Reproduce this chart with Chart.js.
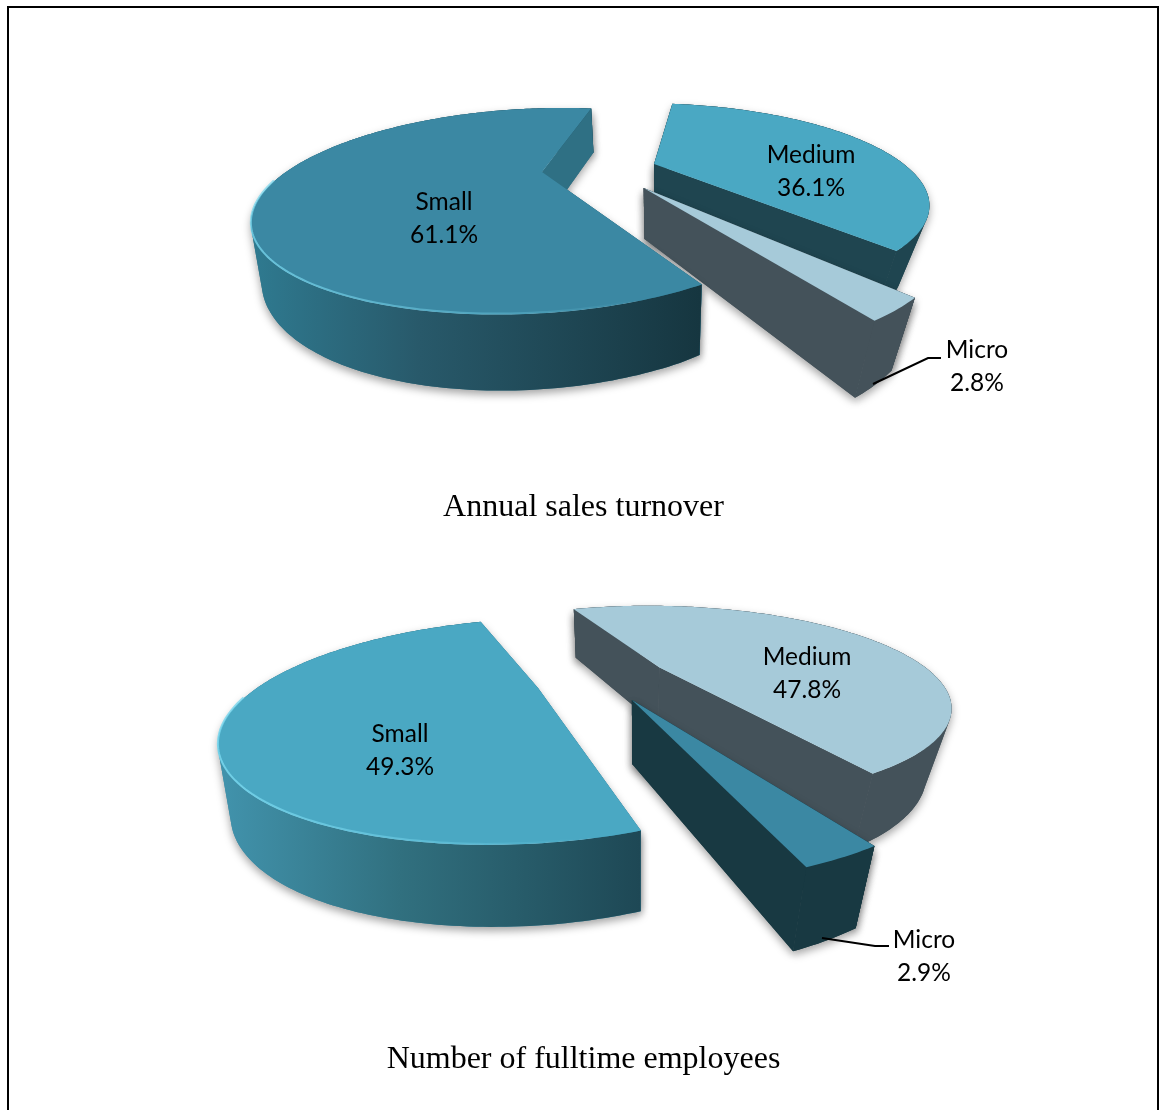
<!DOCTYPE html>
<html>
<head>
<meta charset="utf-8">
<title>Enterprise size shares</title>
<script src="https://cdn.jsdelivr.net/npm/chart.js@4"></script>
<style>
  html, body { margin: 0; padding: 0; background: #fff; width: 1159px; height: 1110px; overflow: hidden; }
  #frame { position: absolute; left: 7px; top: 6px; width: 1148px; height: 1200px; border: 2px solid #000; }
  canvas { position: absolute; left: 0; }
  #turnover { top: 0; }
  #employees { top: 550px; }
</style>
</head>
<body>
<div id="frame"></div>
<canvas id="turnover" width="1167" height="533"></canvas>
<canvas id="employees" width="1167" height="535"></canvas>
<script>
// Slice order runs clockwise from the rotation angle.
const categories = ['Medium', 'Micro', 'Small'];
const turnoverValues = [36.1, 2.8, 61.1];
const employeeValues = [47.8, 2.9, 49.3];
const turnoverTitle = 'Annual sales turnover';
const employeeTitle = 'Number of fulltime employees';

const TEAL = '#4aa8c3', DEEP = '#3b88a3', PALE = '#a6cad9';

// Camera and slice layout for each pie. Offsets and radii are in disc units.
const views = {
  turnover: {
    rotation: 9,
    origin: [542, 172], a: 256, b: -28, c: 88.4, k: 0.38,
    height: [48, 16, 12], pivot: 680, convergeLeft: 0.025, convergeRight: 0.1,
    offset: [[0.443, -0.094], [0.39, 0.169], [0, 0]],
    radius: [1.01, 1, 1],
    top: [TEAL, PALE, DEEP],
    wall: ['#1f4550', '#44525a', '#2f7084'],
    rim: [null, null, [[252, '#2f7a90'], [420, '#28596a'], [700, '#163640']]],
    glow: [0, 0, 0.75],
    labels: [[811, 155], [977, 350], [444, 202]],
    leader: [[873, 384], [928, 358], [941, 358]]
  },
  employees: {
    rotation: -22.2,
    origin: [538, 138], a: 281, b: -30.7, c: 96.8, k: 0.383,
    height: [62, 16, 4], pivot: 640, convergeLeft: 0.03, convergeRight: 0.08,
    offset: [[0.445, -0.23], [0.332, 0.118], [0, 0]],
    radius: [1.03, 1.025, 1],
    top: [PALE, DEEP, TEAL],
    wall: ['#44525a', '#183942', '#3b88a3'],
    rim: [null, null, [[225, '#4192ab'], [400, '#31707f'], [640, '#1e4855']]],
    glow: [0, 0, 0.85],
    labels: [[807, 107], [924, 390], [400, 184]],
    leader: [[822, 388], [875, 396], [889, 396]]
  }
};

function project(view, u, v) {
  const den = 1 - view.k * v;
  return {
    x: view.origin[0] + (view.a * u + view.b * v) / den,
    y: view.origin[1] + view.c * v / den,
    v
  };
}

function lower(view, p) {
  const [h0, h1, h2] = view.height;
  const gap = view.pivot - p.x;
  const converge = gap > 0 ? view.convergeLeft : view.convergeRight;
  return {
    x: p.x + converge * gap,
    y: p.y + h0 + h1 * p.v + h2 * p.v * p.v
  };
}

function tracePolygon(ctx, pts) {
  ctx.beginPath();
  pts.forEach((p, i) => (i ? ctx.lineTo(p.x, p.y) : ctx.moveTo(p.x, p.y)));
  ctx.closePath();
}

// Outer wall as one path of same-winding quads, so the curved silhouette stays filled.
function traceRim(ctx, upper, low) {
  ctx.beginPath();
  for (let n = 0; n < upper.length - 1; n++) {
    const quad = [upper[n], upper[n + 1], low[n + 1], low[n]];
    let area = 0;
    quad.forEach((p, j) => {
      const q = quad[(j + 1) % 4];
      area += p.x * q.y - q.x * p.y;
    });
    if (area < 0) quad.reverse();
    quad.forEach((p, j) => (j ? ctx.lineTo(p.x, p.y) : ctx.moveTo(p.x, p.y)));
    ctx.closePath();
  }
}

// Pie controller that keeps the library's slice angles and paints each one as an extruded wedge.
class Pie3DController extends Chart.PieController {
  static id = 'pie3d';

  draw() {
    const ctx = this.chart.ctx;
    const view = views[this.chart.canvas.id];
    this.getMeta().data.forEach((arc, i) => this.drawWedge(ctx, view, arc, i));
  }

  drawWedge(ctx, view, arc, i) {
    const [du, dv] = view.offset[i];
    const r = view.radius[i];
    const steps = Math.max(6, Math.ceil((arc.endAngle - arc.startAngle) * 180 / Math.PI));
    const rimTop = [];
    for (let s = 0; s <= steps; s++) {
      const t = arc.startAngle + (arc.endAngle - arc.startAngle) * s / steps;
      rimTop.push(project(view, du + r * Math.cos(t), dv + r * Math.sin(t)));
    }
    const apex = project(view, du, dv);
    const rimLow = rimTop.map(p => lower(view, p));
    const apexLow = lower(view, apex);
    const last = rimTop.length - 1;

    const startWall = [apex, rimTop[0], rimLow[0], apexLow];
    const endWall = [apex, rimTop[last], rimLow[last], apexLow];
    const startFacing = -Math.cos(arc.startAngle) > 0;
    const endFacing = Math.cos(arc.endAngle) > 0;

    let rimFill = view.wall[i];
    if (view.rim[i]) {
      const stops = view.rim[i];
      const x0 = stops[0][0], x1 = stops[stops.length - 1][0];
      rimFill = ctx.createLinearGradient(x0, 0, x1, 0);
      stops.forEach(([x, col]) => rimFill.addColorStop((x - x0) / (x1 - x0), col));
    }

    // Cast the drop shadow once from the whole body, then paint its faces cleanly on top.
    ctx.save();
    ctx.shadowColor = 'rgba(0,0,0,0.36)';
    ctx.shadowBlur = 9;
    ctx.shadowOffsetX = 0;
    ctx.shadowOffsetY = 4;
    ctx.fillStyle = view.wall[i];
    [startWall, endWall].forEach(face => {
      tracePolygon(ctx, face);
      ctx.fill();
    });
    traceRim(ctx, rimTop, rimLow);
    ctx.fill();
    ctx.restore();

    const paint = (face, fill) => {
      ctx.fillStyle = fill;
      tracePolygon(ctx, face);
      ctx.fill();
    };
    if (!startFacing) paint(startWall, view.wall[i]);
    if (!endFacing) paint(endWall, view.wall[i]);
    ctx.fillStyle = rimFill;
    traceRim(ctx, rimTop, rimLow);
    ctx.fill();
    if (startFacing) paint(startWall, view.wall[i]);
    if (endFacing) paint(endWall, view.wall[i]);
    paint([apex].concat(rimTop), view.top[i]);

    // Soft bevel along the front-left edge of the top face.
    const front = rimTop.filter(p => p.v - dv > 0.1);
    if (view.glow[i] > 0 && front.length > 1) {
      const xs = front.map(p => p.x);
      const xa = Math.min(...xs), xb = Math.max(...xs);
      const sheen = ctx.createLinearGradient(xa, 0, xb, 0);
      sheen.addColorStop(0, `rgba(120,215,238,${view.glow[i]})`);
      sheen.addColorStop(0.55, `rgba(120,215,238,${view.glow[i] * 0.45})`);
      sheen.addColorStop(0.85, 'rgba(120,215,238,0)');
      ctx.strokeStyle = sheen;
      ctx.lineWidth = 2;
      ctx.beginPath();
      front.forEach((p, n) => (n ? ctx.lineTo(p.x, p.y - 1) : ctx.moveTo(p.x, p.y - 1)));
      ctx.stroke();
    }
  }
}
Chart.register(Pie3DController);

// Category and percentage text for each slice, plus the leader line of the thin slice.
const sliceLabels = {
  id: 'sliceLabels',
  afterDatasetsDraw(chart) {
    const ctx = chart.ctx;
    const view = views[chart.canvas.id];
    const values = chart.data.datasets[0].data;
    ctx.save();
    ctx.fillStyle = '#000';
    ctx.font = '24.5px Lato, Carlito, sans-serif';
    ctx.textAlign = 'center';
    ctx.textBaseline = 'middle';
    chart.data.labels.forEach((name, i) => {
      const [x, y] = view.labels[i];
      ctx.fillText(name, x, y);
      ctx.fillText(values[i].toFixed(1) + '%', x, y + 33);
    });
    ctx.strokeStyle = '#000';
    ctx.lineWidth = 2;
    ctx.beginPath();
    view.leader.forEach(([x, y], n) => (n ? ctx.lineTo(x, y) : ctx.moveTo(x, y)));
    ctx.stroke();
    ctx.restore();
  }
};

function buildPie(id, values, title) {
  return new Chart(document.getElementById(id), {
    type: 'pie3d',
    data: { labels: categories, datasets: [{ data: values }] },
    options: {
      responsive: false,
      animation: false,
      rotation: views[id].rotation,
      plugins: {
        legend: { display: false },
        tooltip: { enabled: false },
        title: {
          display: true,
          text: title,
          position: 'bottom',
          color: '#000',
          padding: { top: 0, bottom: 6 },
          font: { family: '"Liberation Serif", "Times New Roman", serif', size: 32, weight: 'normal' }
        }
      }
    },
    plugins: [sliceLabels]
  });
}

buildPie('turnover', turnoverValues, turnoverTitle);
buildPie('employees', employeeValues, employeeTitle);
</script>
</body>
</html>
